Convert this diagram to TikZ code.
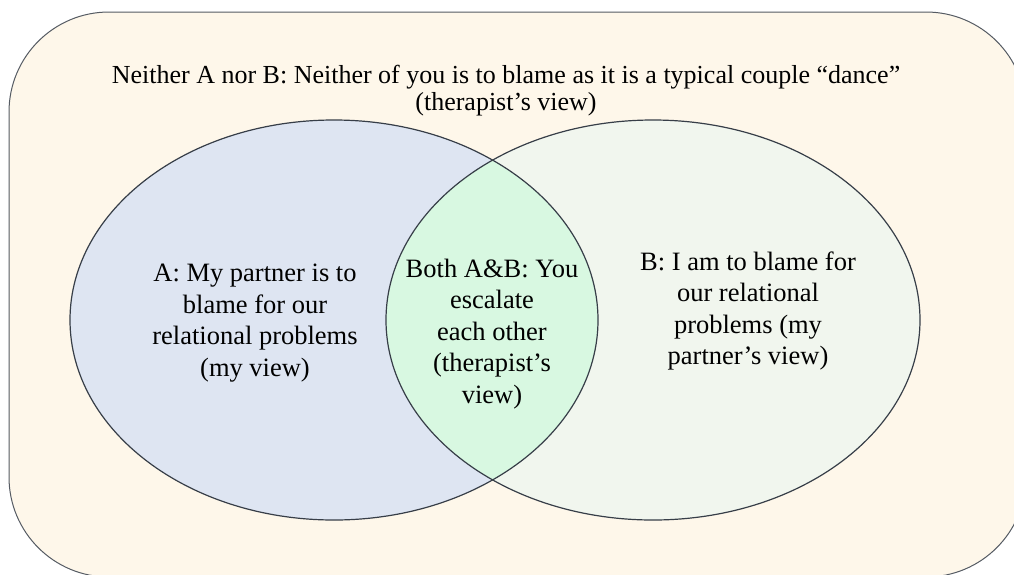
\documentclass[tikz,border=0pt]{standalone}
\usepackage{fontspec}
\setmainfont{Liberation Serif}
\definecolor{canvas}{RGB}{254,247,234}
\definecolor{setA}{RGB}{222,229,242}
\definecolor{setB}{RGB}{241,246,238}
\definecolor{overlap}{RGB}{216,248,225}
\definecolor{rim}{RGB}{55,62,72}
\tikzset{
  label text/.style={align=center, text=black, inner sep=0pt,
    font=\fontsize{26.5}{31.5}\selectfont},
  outline/.style={draw=rim, line width=1.2pt},
}
\begin{document}
\begin{tikzpicture}[x=1pt, y=-1pt]
  \useasboundingbox (0,0) rectangle (1014,574);
  \clip (0,0) rectangle (1014,574);
  % universe: rounded frame
  \draw[fill=canvas, draw=rim!85, line width=1pt, rounded corners=100pt]
    (9,12) rectangle (1026,577);
  % set A and set B
  \fill[setA] (334,320) ellipse [x radius=264, y radius=200];
  \fill[setB] (653,320) ellipse [x radius=267, y radius=200];
  % overlap of A and B
  \begin{scope}
    \clip (334,320) ellipse [x radius=264, y radius=200];
    \fill[overlap] (653,320) ellipse [x radius=267, y radius=200];
  \end{scope}
  \draw[outline] (334,320) ellipse [x radius=264, y radius=200];
  \draw[outline] (653,320) ellipse [x radius=267, y radius=200];
  % labels
  \node[label text, font=\fontsize{26}{27}\selectfont] (neither) at (506,91)
    {Neither A nor B: Neither of you is to blame as it is a typical couple “dance”\\(therapist’s view)};
  \node[label text] (onlyA) at (255,323)
    {A: My partner is to\\blame for our\\relational problems\\(my view)};
  \node[label text] (both) at (492,334)
    {Both A\&B: You\\escalate\\each other\\(therapist’s\\view)};
  \node[label text] (onlyB) at (748,311)
    {B: I am to blame for\\our relational\\problems (my\\partner’s view)};
\end{tikzpicture}
\end{document}
